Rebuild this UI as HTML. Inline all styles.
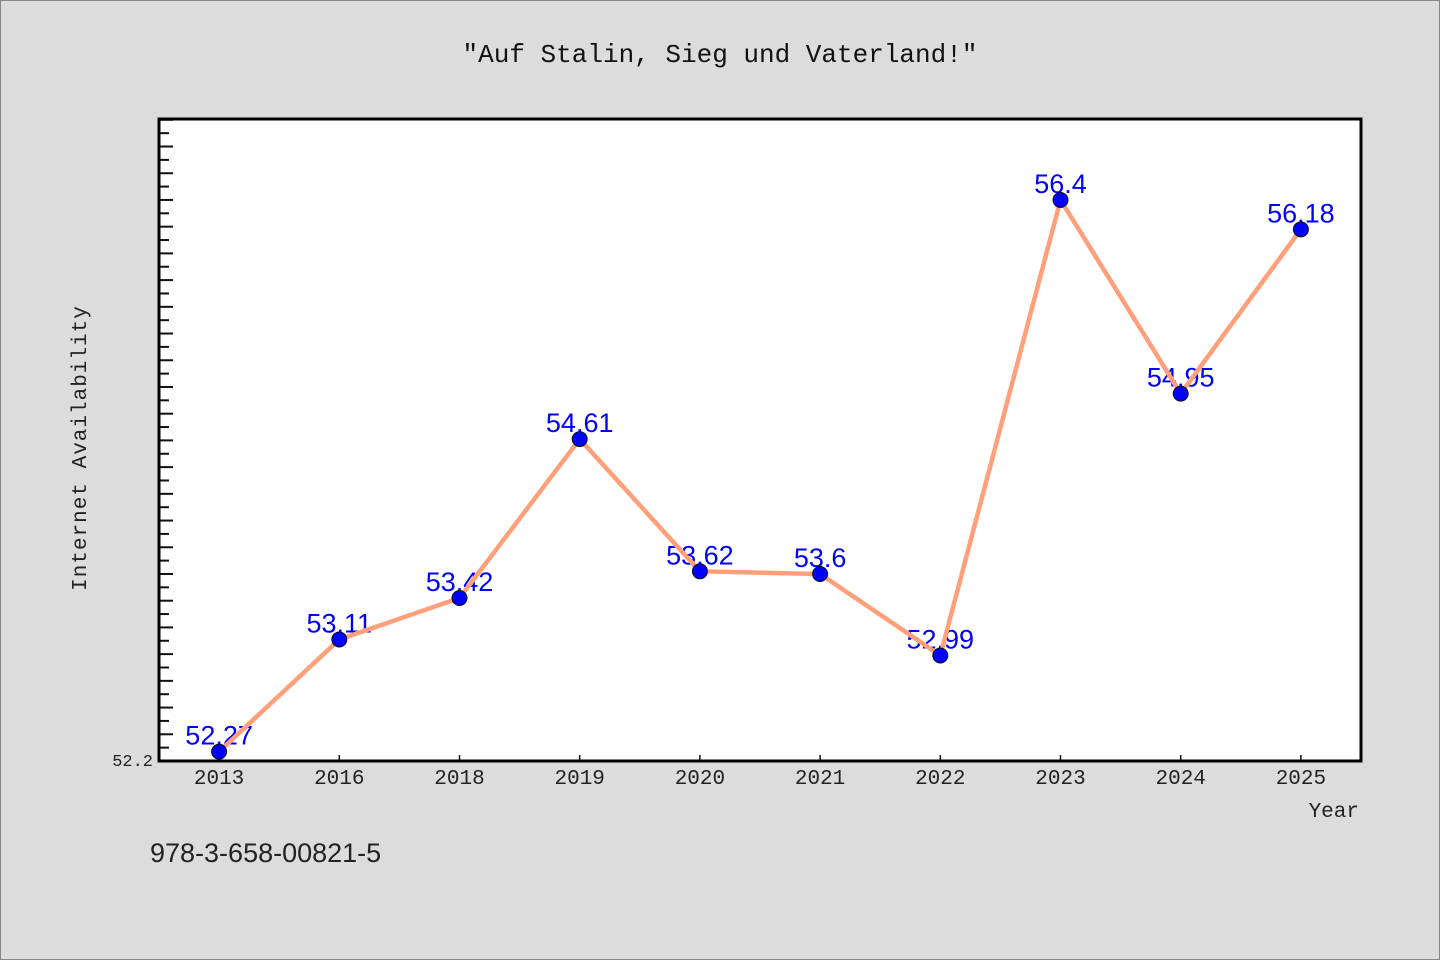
<!DOCTYPE html>
<html><head><meta charset="utf-8"><style>
body{margin:0;background:#dcdcdc;}
svg{display:block;font-family:"Liberation Mono","Noto Sans CJK SC",monospace;}
</style></head><body>
<svg width="1440" height="960">
<rect x="0.5" y="0.5" width="1439" height="959" fill="#dcdcdc" stroke="#888"/>
<text x="720" y="62" text-anchor="middle" font-size="26" fill="#111">"Auf Stalin, Sieg und Vaterland!"</text>
<rect x="159" y="119" width="1202" height="642" fill="#fff"/>
<g id="ticks"></g>
<g id="labels"></g>
<g id="series"></g>
<rect x="159" y="119" width="1202" height="642" fill="none" stroke="#000" stroke-width="3"/>
<text x="153" y="766" text-anchor="end" font-size="17" fill="#222">52.2</text>
<text x="86" y="448" transform="rotate(-90 86 448)" text-anchor="middle" font-size="21" fill="#222" letter-spacing="1">Internet Availability</text>
<text x="1359" y="817" text-anchor="end" font-size="21" fill="#222">Year</text>
<text x="150" y="862" font-family="Liberation Sans,sans-serif" font-size="27" fill="#222">978-3-658-00821-5</text>
</svg>
<script>
const categories=["2013","2016","2018","2019","2020","2021","2022","2023","2024","2025"];
const values=[52.27,53.11,53.42,54.61,53.62,53.6,52.99,56.4,54.95,56.18];
const valueLabels=["52.27","53.11","53.42","54.61","53.62","53.6","52.99","56.4","54.95","56.18"];
const yMin=52.2,yMax=57.006;
const L=159,R=1361,T=119,B=761;
const NS="http://www.w3.org/2000/svg";
function xs(i){return L+(R-L)/categories.length*(i+0.5);}
function ys(v){return B-(v-yMin)/(yMax-yMin)*(B-T);}
function mk(t,a,p){const e=document.createElementNS(NS,t);for(const k in a)e.setAttribute(k,a[k]);p.appendChild(e);return e;}
const tk=document.getElementById('ticks'),lb=document.getElementById('labels'),sr=document.getElementById('series');
for(let k=1;;k++){const v=yMin+k*0.1;if(v>yMax)break;const y=ys(v);
const t=mk('line',{x1:L,x2:L+(k%2==0?14:10),y1:y,y2:y,stroke:'#111','stroke-width':2},tk);

}
categories.forEach((c,i)=>{const x=xs(i);
const t=mk('line',{x1:x,x2:x,y1:B,y2:B-6,stroke:'#111','stroke-width':1.5},tk);


const l=mk('text',{x:x,y:B+23,'text-anchor':'middle','font-size':21,fill:'#222'},tk);l.textContent=c;


const v=mk('text',{x:x,y:ys(values[i])-7,'text-anchor':'middle','font-size':27,fill:'#0000ff','font-family':'Liberation Sans,sans-serif'},lb);v.textContent=valueLabels[i];

});
const pl=mk('polyline',{points:values.map((v,i)=>xs(i)+','+ys(v)).join(' '),fill:'none',stroke:'#ffa07a','stroke-width':4.5,'stroke-linejoin':'round'},sr);


values.forEach((v,i)=>{const c=mk('circle',{cx:xs(i),cy:ys(v),r:7.5,fill:'#0000ff',stroke:'#111','stroke-width':1},sr);

});
</script>
</body></html>
